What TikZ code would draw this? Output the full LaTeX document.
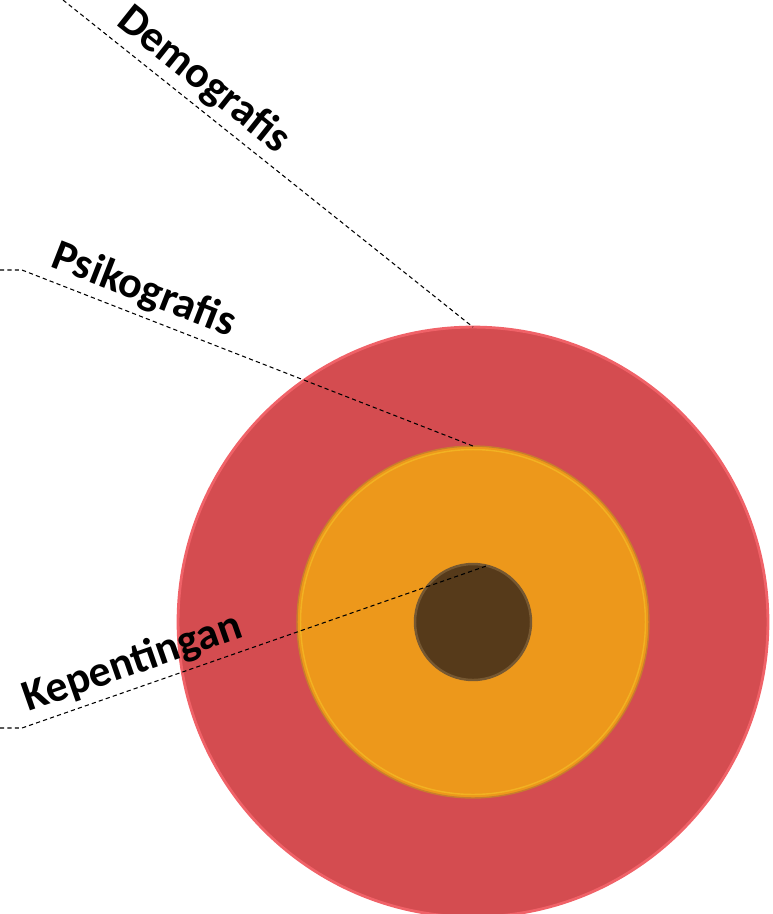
\documentclass[tikz,border=0pt]{standalone}
\usepackage{fontspec}
\setmainfont{Carlito}
\usepackage{tikz}
\usetikzlibrary{positioning,calc}
\definecolor{merahSeg}{RGB}{212,76,80}
\definecolor{merahTepi}{RGB}{240,98,104}
\definecolor{jinggaSeg}{RGB}{237,152,27}
\definecolor{jinggaTepi}{RGB}{200,125,45}
\definecolor{jinggaKilap}{RGB}{246,196,40}
\definecolor{coklatInti}{RGB}{86,58,26}
\definecolor{coklatTepi}{RGB}{118,88,50}

\begin{document}
\begin{tikzpicture}[x=0.02cm,y=-0.02cm,
  lingkaran/.style={circle,inner sep=0pt,outer sep=0pt},
  garis/.style={black,line width=0.6pt,dash pattern=on 2.4pt off 1.8pt},
  teks/.style={font=\fontsize{25}{29}\selectfont\bfseries,inner sep=3pt}]

  \useasboundingbox (0,0) rectangle (773,914);
  \clip (0,0) rectangle (773,914);

  % segmen
  \node[lingkaran,fill=merahSeg,draw=merahTepi,line width=1.6pt,minimum size=11.8cm] (luar) at (473,622) {};
  \node[lingkaran,fill=jinggaSeg,draw=jinggaTepi,line width=0.8pt,minimum size=7.04cm] (tengah) at (473,622) {};
  \draw[jinggaKilap,opacity=0.6,line width=0.8pt] (tengah.center) circle[radius=3.45cm];
  \node[lingkaran,fill=coklatInti,draw=coklatTepi,line width=1.4pt,minimum size=2.32cm] (inti) at (473,622) {};

  % garis keterangan
  \coordinate (demoAwal) at (63,0);
  \coordinate (psiAwal) at (0,270);
  \coordinate (psiTekuk) at (22,270);
  \coordinate (kepAwal) at (0,728);
  \coordinate (kepTekuk) at (22,728);

  \draw[garis] (demoAwal) -- (luar.north)
    node[teks,sloped,above,pos=0.305] (demoLbl) {Demografis};
  \draw[garis] (psiAwal) -- (psiTekuk) -- (tengah.north)
    node[teks,sloped,above,pos=0.25] (psiLbl) {Psikografis};
  \draw[garis] (kepAwal) -- (kepTekuk) -- (inti.76)
    node[teks,sloped,above,pos=0.255] (kepLbl) {Kepentingan};
\end{tikzpicture}
\end{document}
